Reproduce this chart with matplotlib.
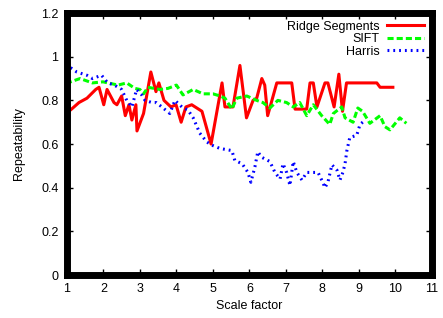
import numpy as np
import matplotlib
matplotlib.use("Agg")
import matplotlib.pyplot as plt

plt.rcParams['font.family'] = ['Liberation Sans', 'DejaVu Sans']

# Ridge Segments (lectura aproximada del gráfico)
ridge_x = [1.0, 1.1, 1.33, 1.55, 1.79, 1.88, 2.01, 2.1, 2.29, 2.37, 2.5, 2.6, 2.7,
           2.78, 2.89, 2.92, 3.1, 3.3, 3.44, 3.52, 3.66, 3.85, 3.99, 4.13, 4.26,
           4.42, 4.7, 4.95, 5.25, 5.33, 5.55, 5.74, 5.92, 6.1, 6.2, 6.34, 6.42,
           6.5, 6.75, 7.16, 7.25, 7.57, 7.66, 7.75, 7.85, 8.07, 8.15, 8.32, 8.45,
           8.55, 8.66, 9.49, 9.58, 9.93]
ridge_y = [0.75, 0.756, 0.79, 0.81, 0.85, 0.86, 0.78, 0.85, 0.79, 0.78, 0.82, 0.73, 0.78,
           0.71, 0.78, 0.66, 0.74, 0.93, 0.84, 0.88, 0.80, 0.77, 0.78, 0.70, 0.77,
           0.78, 0.75, 0.60, 0.88, 0.77, 0.77, 0.96, 0.72, 0.80, 0.81, 0.90, 0.87,
           0.73, 0.88, 0.88, 0.76, 0.76, 0.88, 0.88, 0.77, 0.88, 0.88, 0.77, 0.92,
           0.75, 0.88, 0.88, 0.86, 0.86]

# SIFT
sift_x = [1.0, 1.1, 1.36, 1.7, 1.99, 2.4, 2.64, 2.86, 3.0, 3.1, 3.22, 3.55, 3.77,
          4.0, 4.18, 4.46, 4.73, 5.0, 5.2, 5.33, 5.52, 5.65, 5.93, 6.2, 6.37, 6.56,
          6.78, 7.02, 7.2, 7.38, 7.57, 7.75, 7.98, 8.2, 8.3, 8.53, 8.62, 8.84, 8.97,
          9.1, 9.3, 9.58, 9.71, 9.85, 10.12, 10.3]
sift_y = [0.87, 0.885, 0.90, 0.88, 0.885, 0.87, 0.88, 0.855, 0.85, 0.83, 0.86, 0.85, 0.855,
          0.87, 0.825, 0.85, 0.83, 0.83, 0.82, 0.81, 0.76, 0.81, 0.82, 0.80, 0.79, 0.765,
          0.80, 0.79, 0.77, 0.79, 0.73, 0.78, 0.73, 0.69, 0.74, 0.77, 0.72, 0.70, 0.765,
          0.75, 0.695, 0.73, 0.68, 0.665, 0.72, 0.695]

# Harris
harris_x = [1.0, 1.1, 1.27, 1.55, 1.7, 1.95, 2.12, 2.3, 2.5, 2.64, 2.78, 2.91, 3.05,
            3.14, 3.33, 3.45, 3.6, 3.82, 3.96, 4.15, 4.32, 4.46, 4.64, 4.83, 4.97,
            5.19, 5.52, 5.6, 5.8, 5.96, 6.04, 6.15, 6.23, 6.33, 6.56, 6.7, 6.84,
            6.92, 7.02, 7.11, 7.2, 7.3, 7.44, 7.57, 7.88, 8.01, 8.07, 8.15, 8.26,
            8.4, 8.48, 8.56, 8.62, 8.67, 8.75, 8.94, 9.03, 9.14]
harris_y = [0.97, 0.95, 0.93, 0.915, 0.90, 0.915, 0.88, 0.87, 0.85, 0.80, 0.77, 0.85, 0.825,
            0.80, 0.79, 0.79, 0.77, 0.74, 0.80, 0.77, 0.755, 0.72, 0.65, 0.61, 0.595,
            0.58, 0.57, 0.525, 0.51, 0.47, 0.425, 0.495, 0.565, 0.54, 0.52, 0.47, 0.44,
            0.51, 0.47, 0.41, 0.52, 0.47, 0.435, 0.47, 0.47, 0.425, 0.40, 0.425, 0.505,
            0.48, 0.435, 0.47, 0.51, 0.57, 0.63, 0.64, 0.69, 0.705]

fig = plt.figure(figsize=(4.43, 3.18), dpi=100)
ax = fig.add_axes([0.151, 0.135, 0.824, 0.824])

ax.plot(ridge_x, ridge_y, '-', color='#ff0000', lw=2.2, label='Ridge Segments')
ax.plot(sift_x, sift_y, '--', color='#00ff00', lw=2.2, dashes=(2.0, 1.0), label='SIFT')
ax.plot(harris_x, harris_y, ':', color='#0000ff', lw=2.2, dashes=(0.6, 1.3), label='Harris')

ax.set_xlim(1, 11)
ax.set_ylim(0, 1.2)
ax.set_xticks(range(1, 12))
ax.set_yticks([0, 0.2, 0.4, 0.6, 0.8, 1.0, 1.2])
ax.set_yticklabels(['0', '0.2', '0.4', '0.6', '0.8', '1', '1.2'])
ax.tick_params(direction='in', length=4, width=1, labelsize=9, top=True, right=True, pad=6)
for s in ax.spines.values():
    s.set_linewidth(5)

ax.set_xlabel("Scale factor", fontsize=9, labelpad=3)
ax.set_ylabel("Repeatability", fontsize=9, labelpad=12)

leg = ax.legend(loc='upper right', frameon=False, fontsize=9, markerfirst=False,
                handlelength=3.0, labelspacing=0.05, borderaxespad=0.2, handletextpad=0.6)
for t in leg.get_texts():
    t.set_ha('right')

plt.savefig("out.png", dpi=100)
